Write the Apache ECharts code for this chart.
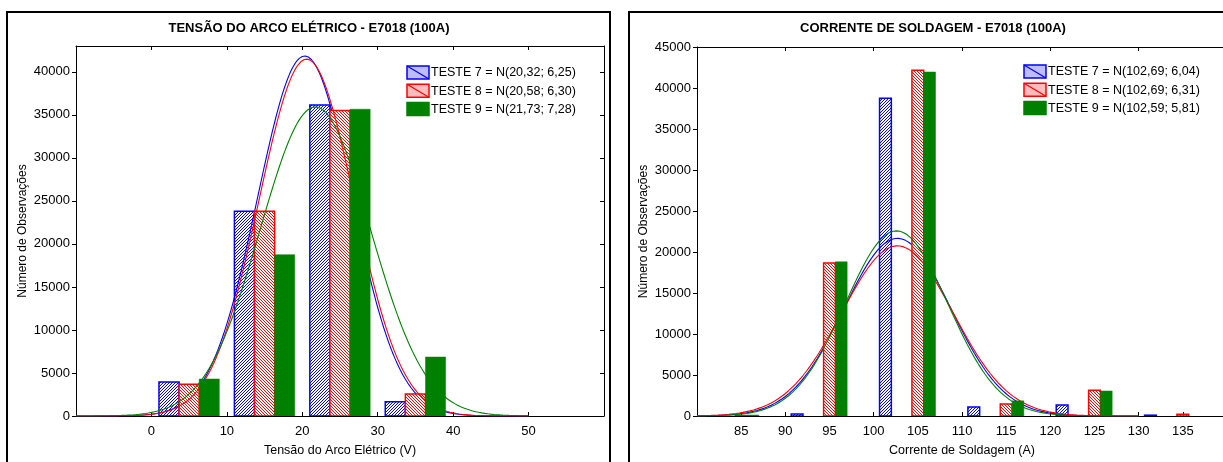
<!DOCTYPE html>
<html><head><meta charset="utf-8">
<script src="https://cdn.jsdelivr.net/npm/echarts@6/dist/echarts.min.js"></script>
<style>html,body{margin:0;padding:0;overflow:hidden;background:#fff}#c{width:1250px;height:462px}</style>
</head><body><div id="c"></div>
<script>
// ---------- DATA ----------
// Left chart: Tensão do Arco Elétrico (bins of 10 V)
const voltBins = [5, 15, 25, 35];
const voltTeste7 = [3950, 23800, 36150, 1650];
const voltTeste8 = [3700, 23800, 35500, 2550];
const voltTeste9 = [4300, 18750, 35650, 6850];
const voltMeans = [20.32, 20.58, 21.73];
const voltSds = [6.25, 6.30, 7.28];
const voltTotals = [65550, 65500, 65550];
const voltLegend = ['TESTE 7 = N(20,32; 6,25)', 'TESTE 8 = N(20,58; 6,30)', 'TESTE 9 = N(21,73; 7,28)'];

// Right chart: Corrente de Soldagem (bins of 5 A)
const currBinsT7 = [90, 100, 110, 120, 130];
const currTeste7 = [250, 38750, 1100, 1350, 100];
const currBinsT8 = [85, 95, 105, 115, 125, 135];
const currTeste8 = [50, 18650, 42150, 1450, 3150, 200];
const currBinsT9 = [85, 95, 105, 115, 125];
const currTeste9 = [120, 18800, 41950, 1850, 3050];
const currMeans = [102.69, 102.69, 102.59];
const currSds = [6.04, 6.31, 5.81];
const currTotals = [65600, 65650, 65760];
const currLegend = ['TESTE 7 = N(102,69; 6,04)', 'TESTE 8 = N(102,69; 6,31)', 'TESTE 9 = N(102,59; 5,81)'];

// ---------- STYLE ----------
const FONT = "'Liberation Sans', Arial, sans-serif";
const BLUE = '#0000ff', RED = '#ff0000', GREEN = '#008000';

function hatch(color, soft, rising) {
  const n = 3, c = document.createElement('canvas');
  c.width = n; c.height = n;
  const g = c.getContext('2d');
  g.fillStyle = '#ffffff'; g.fillRect(0, 0, n, n);
  for (let i = 0; i < n; i++) {
    const x = rising ? n - 1 - i : i;
    g.fillStyle = color; g.fillRect(x, i, 1, 1);
  }
  return { image: c, repeat: 'repeat' };
}
const blueFill = hatch(BLUE, '#b0b0ff', true);
const redFill = hatch(RED, '#ffb0b0', false);

function barSeries(name, bins, vals, fill, stroke, lw, xi, yi, slot, bw, z) {
  return {
    type: 'custom', name, xAxisIndex: xi, yAxisIndex: yi, z, clip: true,
    data: bins.map((b, i) => [b, vals[i]]),
    renderItem: (p, api) => {
      const c = api.value(0), v = api.value(1);
      const x0 = c + (slot - 0.5) * bw;
      const a = api.coord([x0, v]);
      const b = api.coord([x0 + bw, 0]);
      return { type: 'rect', shape: { x: a[0], y: a[1], width: b[0] - a[0], height: b[1] - a[1] },
        style: { fill, stroke, lineWidth: lw } };
    }
  };
}
function curveSeries(name, mean, sd, total, bw, from, to, color, xi, yi, z) {
  const pts = [];
  const k = total * bw / (sd * Math.sqrt(2 * Math.PI));
  for (let x = from; x <= to + 1e-9; x += 0.2) {
    pts.push([x, k * Math.exp(-0.5 * Math.pow((x - mean) / sd, 2))]);
  }
  return { type: 'line', name, xAxisIndex: xi, yAxisIndex: yi, z, data: pts, showSymbol: false,
    symbol: 'none', smooth: false, silent: true, lineStyle: { color, width: 1.1 } };
}

const lblStyle = { fontSize: 13, color: '#000', fontFamily: FONT };
const nameStyle = { fontSize: 12.5, color: '#000', fontFamily: FONT };
const axLine = { show: true, onZero: false, lineStyle: { color: '#000', width: 1 } };
const plain = v => String(v);
function xMain(gi, min, max, interval, name) {
  return { gridIndex: gi, type: 'value', min, max, interval, position: 'bottom',
    axisLine: axLine, axisTick: { show: true, inside: true, length: 4, lineStyle: { color: '#000' } },
    axisLabel: Object.assign({ showMinLabel: false, showMaxLabel: false, margin: 9, formatter: plain }, lblStyle),
    splitLine: { show: false }, name, nameLocation: 'middle', nameGap: 28, nameTextStyle: nameStyle };
}
function xTop(gi, min, max, interval) {
  return { gridIndex: gi, type: 'value', min, max, interval, position: 'top',
    axisLine: axLine, axisTick: { show: true, inside: true, length: 4, lineStyle: { color: '#000' } },
    axisLabel: { show: false }, splitLine: { show: false } };
}
function yMain(gi, max, name) {
  return { gridIndex: gi, type: 'value', min: 0, max, interval: 5000, position: 'left',
    axisLine: axLine, axisTick: { show: true, inside: false, length: 4, lineStyle: { color: '#000' } },
    axisLabel: Object.assign({ showMaxLabel: max % 5000 === 0, margin: 6, formatter: plain }, lblStyle),
    splitLine: { show: false }, name, nameLocation: 'middle', nameGap: 47, nameRotate: 90,
    nameTextStyle: { fontSize: 12, color: '#000', fontFamily: FONT } };
}
function yRight(gi, max) {
  return { gridIndex: gi, type: 'value', min: 0, max, interval: 5000, position: 'right',
    axisLine: axLine, axisTick: { show: true, inside: true, length: 4, lineStyle: { color: '#000' } },
    axisLabel: { show: false }, splitLine: { show: false } };
}

function legendGraphics(x, y, labels) {
  const out = [];
  const defs = [
    { fill: '#bcbcff', stroke: BLUE, diag: true },
    { fill: '#ffbcbc', stroke: RED, diag: true },
    { fill: GREEN, stroke: GREEN, diag: false }
  ];
  labels.forEach((t, i) => {
    const yy = y + i * 18.3;
    out.push({ type: 'rect', z: 50, shape: { x, y: yy, width: 22, height: 13 },
      style: { fill: defs[i].fill, stroke: defs[i].stroke, lineWidth: 1.5 } });
    if (defs[i].diag) out.push({ type: 'line', z: 51, shape: { x1: x, y1: yy, x2: x + 22, y2: yy + 13 },
      style: { stroke: defs[i].stroke, lineWidth: 1.2 } });
    out.push({ type: 'text', z: 51, x: x + 24, y: yy + 6.8,
      style: { text: t, fill: '#000', font: '12.5px ' + FONT, align: 'left', verticalAlign: 'middle' } });
  });
  return out;
}

const chart = echarts.init(document.getElementById('c'), null, { renderer: 'canvas' });
const option = {
  animation: false,
  backgroundColor: '#ffffff',
  grid: [
    { left: 76, top: 46, width: 528, height: 372 },
    { left: 697, top: 47, width: 530, height: 371 }
  ],
  xAxis: [
    xMain(0, -10, 60, 10, 'Tensão do Arco Elétrico (V)'),
    xTop(0, -10, 60, 10),
    xMain(1, 80, 140, 5, 'Corrente de Soldagem (A)'),
    xTop(1, 80, 140, 10)
  ],
  yAxis: [
    yMain(0, 43000, 'Número de Observações'),
    yRight(0, 43000),
    yMain(1, 45000, 'Número de Observações'),
    yRight(1, 45000)
  ],
  series: [
    barSeries('TESTE 7', voltBins, voltTeste7, blueFill, BLUE, 1.5, 0, 0, -1, 8 / 3, 2),
    curveSeries('TESTE 7 curva', voltMeans[0], voltSds[0], voltTotals[0], 10, -10, 50, BLUE, 0, 0, 3),
    barSeries('TESTE 8', voltBins, voltTeste8, redFill, RED, 1.5, 0, 0, 0, 8 / 3, 4),
    curveSeries('TESTE 8 curva', voltMeans[1], voltSds[1], voltTotals[1], 10, -10, 50, RED, 0, 0, 5),
    barSeries('TESTE 9', voltBins, voltTeste9, GREEN, GREEN, 0.5, 0, 0, 1, 8 / 3, 6),
    curveSeries('TESTE 9 curva', voltMeans[2], voltSds[2], voltTotals[2], 10, -10, 50, GREEN, 0, 0, 7),

    barSeries('TESTE 7 ', currBinsT7, currTeste7, blueFill, BLUE, 1.5, 2, 2, 1, 4 / 3, 2),
    curveSeries('TESTE 7 curva ', currMeans[0], currSds[0], currTotals[0], 5, 80, 130, BLUE, 2, 2, 3),
    barSeries('TESTE 8 ', currBinsT8, currTeste8, redFill, RED, 1.5, 2, 2, 0, 4 / 3, 4),
    curveSeries('TESTE 8 curva ', currMeans[1], currSds[1], currTotals[1], 5, 80, 130, RED, 2, 2, 5),
    barSeries('TESTE 9 ', currBinsT9, currTeste9, GREEN, GREEN, 0.5, 2, 2, 1, 4 / 3, 6),
    curveSeries('TESTE 9 curva ', currMeans[2], currSds[2], currTotals[2], 5, 80, 130, GREEN, 2, 2, 7)
  ],
  graphic: [
    { type: 'rect', z: 100, shape: { x: 7, y: 12, width: 603, height: 470 }, style: { fill: null, stroke: '#000', lineWidth: 2 } },
    { type: 'rect', z: 100, shape: { x: 629, y: 12, width: 610, height: 470 }, style: { fill: null, stroke: '#000', lineWidth: 2 } },
    { type: 'text', z: 100, x: 309, y: 28, style: { text: 'TENSÃO DO ARCO ELÉTRICO - E7018 (100A)', fill: '#000', font: 'bold 13px ' + FONT, align: 'center', verticalAlign: 'middle' } },
    { type: 'text', z: 100, x: 933, y: 28, style: { text: 'CORRENTE DE SOLDAGEM - E7018 (100A)', fill: '#000', font: 'bold 13px ' + FONT, align: 'center', verticalAlign: 'middle' } }
  ].concat(legendGraphics(407, 66, voltLegend), legendGraphics(1024, 65, currLegend))
};
chart.setOption(option);
</script>
</body></html>
